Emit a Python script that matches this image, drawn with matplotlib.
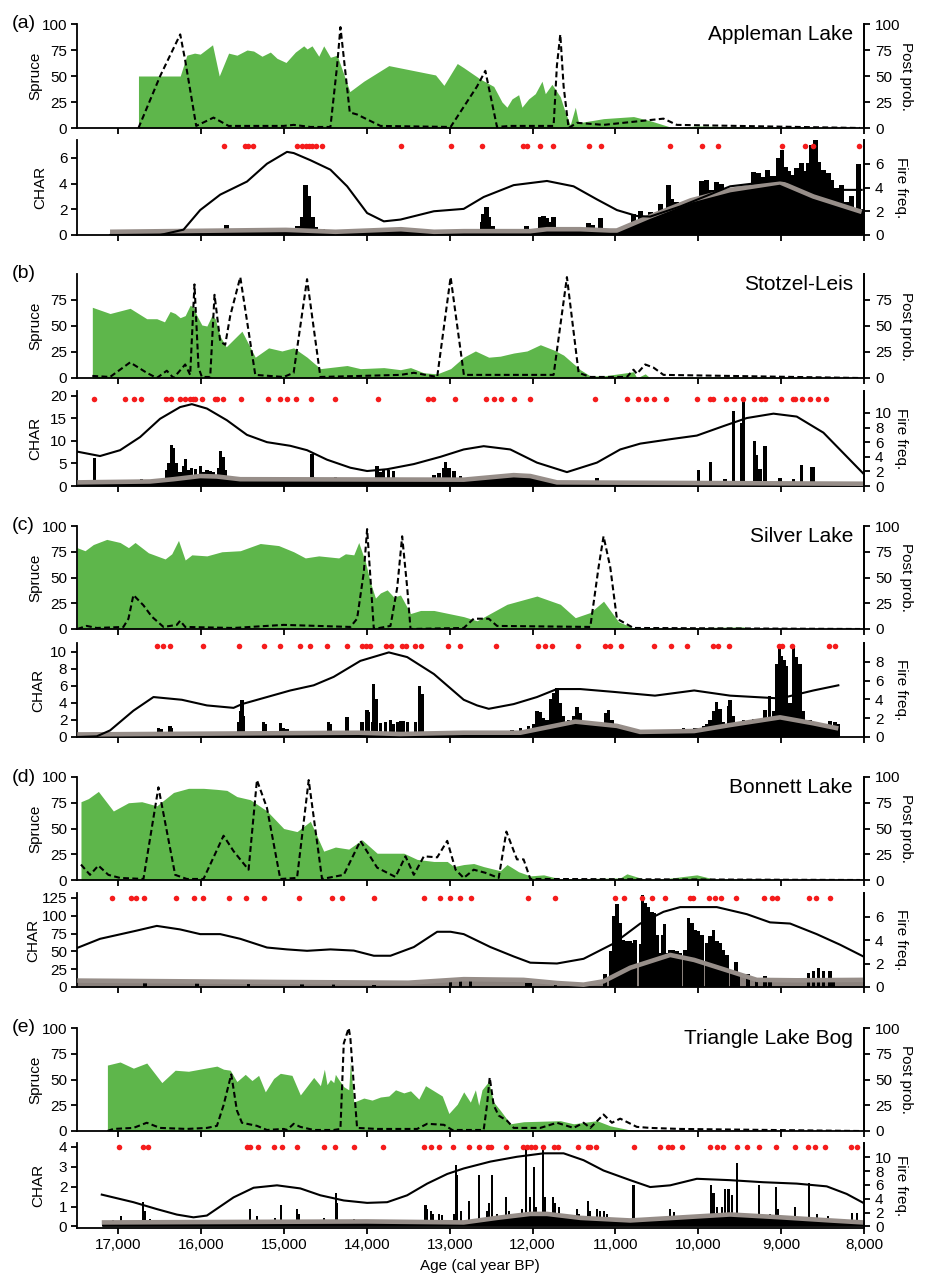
import matplotlib
matplotlib.use("Agg")
import matplotlib.pyplot as plt
from matplotlib.ticker import FuncFormatter

plt.rcParams['font.family'] = ['Liberation Sans', 'DejaVu Sans']
plt.rcParams.update({
    'xtick.labelsize': 11, 'ytick.labelsize': 11,
    'axes.linewidth': 1.3,
    'xtick.major.width': 1.3, 'ytick.major.width': 1.3,
    'xtick.major.size': 4, 'ytick.major.size': 4,
    'xtick.direction': 'out', 'ytick.direction': 'out',
    'xtick.major.pad': 3, 'ytick.major.pad': 3,
})

# ---------------- (a) Appleman Lake ----------------
a_spruce_age = [16758, 16254, 16174, 16081, 16013, 15864, 15783, 15670, 15569, 15448, 15368, 15267, 15166, 15086,
                14977, 14864, 14763, 14723, 14663, 14582, 14522, 14441, 14360, 14207, 14038, 13736, 13172, 13071,
                12910, 12832, 12631, 12470, 12370, 12310, 12249, 12169, 12129, 12048, 11968, 11887, 11847, 11767,
                11666, 11606, 11546, 11485, 11445, 11144, 10782, 10581, 10300, 10018, 9415, 8048]
a_spruce = [50, 50, 70, 72, 71, 80, 50, 72, 70, 75, 74, 69, 73, 67, 63, 73, 79, 76, 79, 69, 79, 68, 70, 35, 45, 60,
            51, 41, 62, 58, 47, 40, 25, 20, 28, 32, 20, 28, 33, 45, 33, 42, 30, 15, 3, 20, 5, 9, 11, 7, 0, 2, 1, 0]
a_pp_age = [16758, 16496, 16254, 16194, 16061, 15852, 15670, 15005, 14884, 14683, 14441, 14360, 14320, 14207, 14119,
            13836, 12990, 12671, 12571, 12430, 12269, 11747, 11707, 11666, 11626, 11566, 11465, 11144, 10420, 10259,
            8048]
a_pp = [0, 50, 90, 65, 2, 10, 2, 2, 3, 1, 1, 60, 97, 15, 13, 2, 1, 40, 55, 1, 2, 2, 60, 90, 40, 0, 5, 3, 9, 3, 0]
a_ff_age = [17101, 16496, 16214, 16013, 15771, 15448, 15207, 14965, 14884, 14683, 14441, 14239, 13998, 13796, 13595,
            13192, 12832, 12591, 12229, 11827, 11506, 11224, 10983, 10742, 10581, 10219, 9616, 9013, 8611, 8330, 8028]
a_ff = [0, 0, 0.45, 2.1, 3.4, 4.5, 6.0, 7.0, 6.9, 6.3, 5.5, 4.1, 1.85, 1.15, 1.3, 2.0, 2.2, 3.2, 4.2, 4.55, 4.1, 3.0,
        2.1, 1.6, 1.55, 2.4, 4.1, 4.6, 4.2, 3.8, 3.8]
a_bg_age = [17101, 14980, 14380, 13590, 13190, 12832, 12028, 11827, 11425, 11065, 10983, 10581, 10091, 9616, 9013,
            8611, 8028]
a_bg = [0.25, 0.4, 0.25, 0.45, 0.25, 0.3, 0.3, 0.45, 0.45, 0.35, 0.35, 1.45, 2.7, 3.5, 4.1, 3.0, 1.8]
a_char_age = [15690, 15470, 15370, 14970, 14840, 14780, 14740, 14700, 14660, 14620, 14540, 12990, 12610, 12590,
              12560, 12530, 12490, 12450, 12110, 12070, 11910, 11870, 11830, 11790, 11750, 11670, 11320, 11280,
              11180, 10780, 10700, 10580, 10460, 10360, 10320, 10260, 10180, 10100, 10020, 9960, 9900, 9840, 9780,
              9720, 9660, 9600, 9540, 9470, 9390, 9330, 9270, 9210, 9170, 9130, 9070, 9030, 8990, 8950, 8910, 8870,
              8810, 8750, 8710, 8670, 8630, 8590, 8550, 8490, 8430, 8390, 8330, 8270, 8210, 8150, 8070, 8030]
a_char = [0.8, 0.2, 0.4, 0.4, 0.7, 1.4, 3.9, 3.0, 1.4, 0.6, 0.5, 0.4, 1.0, 1.6, 2.2, 1.4, 0.7, 0.3, 0.5, 0.7, 1.4,
          1.5, 1.3, 1.0, 1.4, 0.6, 0.9, 0.8, 1.3, 1.6, 1.9, 1.8, 2.4, 3.9, 2.8, 2.6, 2.6, 2.4, 2.5, 4.2, 4.3, 3.5,
          4.1, 4.0, 2.7, 3.3, 2.9, 3.0, 2.6, 4.9, 4.8, 4.5, 5.1, 4.6, 4.6, 6.0, 6.6, 5.3, 5.0, 4.7, 5.2, 5.6, 5.0,
          5.6, 7.0, 7.4, 5.7, 5.1, 4.8, 4.3, 3.7, 3.9, 2.6, 3.0, 5.5, 2.0]
a_peaks = [15720, 15470, 15430, 15370, 14840, 14780, 14740, 14700, 14660, 14620, 14540, 13590, 12990, 12610, 12120,
           12070, 11910, 11750, 11320, 11170, 10340, 9950, 9760, 8990, 8710, 8620, 8060]

# ---------------- (b) Stotzel-Leis ----------------
b_spruce_age = [17315, 17101, 16859, 16658, 16537, 16444, 16376, 16315, 16255, 16194, 16134, 16094, 16053, 15993,
                15932, 15872, 15832, 15771, 15699, 15509, 15348, 15187, 15026, 14885, 14723, 14562, 14240, 14079,
                13797, 13595, 13474, 13313, 13152, 12990, 12832, 12691, 12530, 12390, 12229, 12068, 11907, 11747,
                11626, 11425, 11304, 11144, 10782, 10742, 10641, 10581, 9857, 8048]
b_spruce = [68, 62, 67, 57, 57, 54, 64, 62, 58, 60, 70, 68, 60, 51, 50, 60, 57, 40, 30, 45, 20, 29, 26, 29, 20, 9,
            12, 9, 10, 8, 10, 5, 4, 9, 20, 26, 20, 21, 24, 26, 32, 27, 22, 8, 2, 2, 6, 0, 4, 0, 1, 0]
b_pp_age = [17315, 17101, 16859, 16658, 16537, 16416, 16335, 16194, 16134, 16082, 16033, 15993, 15892, 15840, 15771,
            15711, 15650, 15529, 15348, 15005, 14885, 14723, 14562, 13595, 13434, 13152, 12990, 12830, 12028, 11747,
            11586, 11445, 11304, 10862, 10782, 10742, 10641, 10541, 10420, 8048]
b_pp = [2, 1, 15, 5, 0, 7, 0, 13, 3, 90, 10, 1, 1, 80, 35, 32, 60, 97, 3, 1, 5, 95, 1, 3, 5, 1, 97, 3, 3, 3, 97, 5,
        1, 1, 8, 4, 13, 10, 3, 0]
b_ff_age = [17496, 17222, 16980, 16738, 16497, 16255, 16114, 15932, 15691, 15449, 15207, 14925, 14723, 14482, 14200,
            13998, 13756, 13434, 13111, 12832, 12591, 12269, 11948, 11586, 11224, 10943, 10701, 10340, 10018, 9696,
            9415, 9093, 8812, 8490, 8249, 8008]
b_ff = [4.7, 4.1, 4.9, 6.7, 9.2, 10.8, 11.2, 10.6, 9.0, 7.0, 6.0, 5.5, 4.9, 3.6, 2.5, 2.05, 2.3, 3.0, 4.0, 5.0, 5.45,
        5.0, 3.2, 1.9, 3.2, 5.0, 5.8, 6.4, 6.9, 8.2, 9.3, 9.9, 9.5, 7.3, 4.5, 1.7]
b_bg_age = [17496, 16617, 16336, 16013, 15812, 15529, 12832, 12229, 12028, 11706, 8008]
b_bg = [0.8, 1.0, 1.5, 2.2, 2.1, 1.5, 1.4, 2.4, 2.2, 0.8, 0.5]
b_char_age = [17290, 16900, 16880, 16718, 16416, 16396, 16356, 16335, 16295, 16255, 16215, 16194, 16154, 16114,
              16073, 16013, 15973, 15932, 15892, 15852, 15791, 15771, 15739, 15711, 15671, 15489, 15469, 15207,
              15167, 15106, 14965, 14925, 14885, 14824, 14663, 14643, 14381, 14361, 13877, 13837, 13797, 13736,
              13676, 13253, 13192, 13131, 13071, 13051, 13011, 12950, 12870, 12832, 12711, 12591, 12470, 12390,
              12309, 12229, 12149, 12028, 11988, 11224, 10862, 10701, 9998, 9857, 9676, 9576, 9475, 9455, 9323,
              9294, 9254, 9194, 9013, 8852, 8752, 8631, 8611]
b_char = [6.3, 1.2, 0.8, 1.5, 3.5, 5.0, 9.0, 8.5, 5.0, 3.0, 4.5, 6.0, 3.5, 4.0, 3.8, 4.5, 3.0, 3.5, 3.3, 3.0, 4.0,
          7.8, 6.5, 3.5, 2.0, 1.8, 2.0, 1.0, 0.8, 0.8, 1.5, 1.7, 1.6, 1.4, 7.0, 2.0, 1.9, 1.0, 4.5, 3.0, 3.7, 3.5,
          3.3, 1.8, 2.5, 2.8, 4.0, 5.2, 4.0, 3.3, 2.3, 1.5, 1.7, 1.8, 2.0, 2.0, 2.2, 2.4, 2.0, 2.3, 1.0, 1.8, 0.8,
          1.0, 3.6, 5.2, 1.5, 16.5, 13.9, 19.3, 10.0, 6.9, 3.7, 8.9, 1.7, 1.5, 4.7, 4.1, 4.3]
b_peaks = [17290, 16920, 16807, 16726, 16428, 16364, 16255, 16194, 16134, 16094, 16073, 15993, 15840, 15812, 15739,
           15521, 15199, 15046, 14965, 14856, 14671, 14381, 13869, 13260, 13200, 12942, 12563, 12462, 12382, 12229,
           12028, 11252, 10862, 10729, 10629, 10529, 10388, 10018, 9857, 9825, 9668, 9568, 9463, 9323, 9242, 9194,
           9005, 8852, 8832, 8744, 8651, 8551, 8458]

# ---------------- (c) Silver Lake ----------------
c_spruce_age = [17500, 17403, 17303, 17141, 16980, 16879, 16799, 16638, 16436, 16356, 16275, 16194, 16114, 15932,
                15751, 15529, 15288, 15066, 14885, 14744, 14582, 14341, 14260, 14159, 14099, 14018, 13958, 13897,
                13837, 13756, 13676, 13595, 13474, 13353, 13192, 12832, 12671, 12309, 11948, 11666, 11485, 11304,
                11144, 10963, 10782, 10380, 9459, 9335, 8048]
c_spruce = [79, 76, 82, 87, 84, 79, 84, 74, 68, 73, 86, 67, 72, 71, 75, 76, 83, 81, 75, 69, 71, 69, 73, 72, 84, 65,
            45, 30, 35, 38, 31, 33, 15, 18, 18, 12, 8, 24, 32, 24, 11, 16, 27, 7, 1, 1, 2, 0, 0]
c_pp_age = [17496, 17384, 17262, 16940, 16879, 16819, 16698, 16597, 16456, 16295, 16255, 16194, 15610, 15005, 14200,
            14119, 14038, 13998, 13950, 13917, 13716, 13635, 13575, 13514, 13474, 12832, 12711, 12530, 12430, 11304,
            11204, 11144, 11063, 10983, 10782, 8048]
c_pp = [0, 3, 1, 2, 10, 33, 23, 12, 2, 4, 8, 2, 1, 4, 2, 10, 55, 97, 40, 0, 3, 40, 90, 40, 0, 1, 10, 10, 3, 2, 60,
        90, 60, 10, 1, 0]
c_ff_age = [17496, 17262, 17101, 16819, 16577, 16234, 15932, 15610, 15509, 15207, 14925, 14643, 14401, 14079, 13736,
            13514, 13192, 12832, 12671, 12530, 12229, 11948, 11707, 11425, 11023, 10523, 10050, 9616, 9210, 9013,
            8611, 8310]
c_ff = [0, 0.07, 0.7, 2.8, 4.25, 3.96, 3.36, 3.1, 3.5, 4.25, 4.95, 5.5, 6.4, 8.1, 9.0, 8.5, 6.7, 3.96, 3.36, 3.0,
        3.5, 4.25, 5.1, 5.1, 4.8, 4.4, 4.95, 4.4, 4.2, 4.1, 4.95, 5.5]
c_bg_age = [17496, 14100, 13600, 12832, 12149, 11485, 10983, 10702, 10050, 9616, 9013, 8611, 8310]
c_bg = [0.3, 0.5, 0.35, 0.5, 0.5, 1.8, 1.3, 0.6, 0.7, 1.4, 2.3, 1.6, 1.0]
c_char_age = [16819, 16517, 16476, 16376, 16356, 15973, 15912, 15550, 15529, 15509, 15489, 15368, 15247, 15227,
              15046, 15005, 14965, 14683, 14462, 14441, 14240, 14059, 13998, 13978, 13937, 13917, 13885, 13837,
              13776, 13716, 13676, 13635, 13595, 13555, 13514, 13414, 13362, 13333, 13232, 13031, 12870,
              12430, 12350, 12250, 12150, 12050, 11990, 11948, 11907, 11867, 11827, 11787, 11747, 11706, 11666,
              11626, 11565, 11505, 11465, 11425, 11385, 11345, 11300, 11230, 11184, 11124, 11083, 11043, 10983,
              10943, 10902, 10850, 10800, 10750, 10700, 10620, 10541, 10460, 10380, 10299, 10240, 10179, 10100,
              10040, 10000, 9940, 9900, 9860, 9817, 9777, 9737, 9696, 9636, 9616, 9576, 9520, 9455, 9400, 9335,
              9300, 9254, 9194, 9142, 9093, 9053, 9021, 8993, 8965, 8933, 8892, 8852, 8812, 8772, 8732, 8700, 8651,
              8610, 8571, 8530, 8490, 8450, 8410, 8350, 8310]
c_char = [0.2, 1.1, 0.9, 1.3, 1.1, 0.5, 0.6, 1.8, 3.0, 4.3, 2.5, 0.3, 1.8, 1.5, 1.6, 1.0, 0.9, 0.4, 1.8, 1.5, 2.3,
          1.7, 3.2, 2.9, 1.7, 6.2, 4.5, 1.6, 1.8, 2.0, 1.5, 1.7, 1.9, 1.9, 1.8, 1.8, 6.0, 5.0, 0.3, 0.3, 0.3,
          0.5, 0.6, 0.8, 1.0, 1.3, 1.5, 3.0, 2.9, 2.2, 2.0, 4.5, 5.2, 5.7, 4.0, 2.5, 2.0, 2.5, 3.5, 2.8, 1.8, 1.5,
          1.6, 1.5, 1.8, 2.8, 3.2, 2.0, 1.5, 1.3, 1.0, 0.9, 0.9, 0.7, 0.7, 0.6, 0.5, 0.5, 0.7, 0.8, 0.8, 1.0,
          0.9, 1.0, 1.0, 1.3, 1.5, 2.0, 3.0, 4.1, 3.3, 1.8, 3.6, 4.3, 2.5, 1.8, 2.0, 1.8, 2.1, 2.0, 2.0, 3.2,
          4.8, 3.0, 8.5, 10.4, 9.5, 9.0, 8.3, 4.0, 10.5, 9.4, 8.6, 3.0, 2.0, 2.0, 1.8, 1.5, 1.5, 1.3, 1.5, 1.9,
          1.8, 1.5]
c_peaks = [16537, 16456, 16376, 15985, 15550, 15247, 15046, 14804, 14683, 14482, 14240, 14059, 14010, 13958, 13776,
           13708, 13575, 13527, 13414, 13353, 13019, 12878, 12442, 11936, 11847, 11767, 11453, 11132, 11063, 10931,
           10529, 10328, 10139, 9817, 9757, 9628, 9025, 8993, 8864, 8418, 8350]

# ---------------- (d) Bonnett Lake ----------------
d_spruce_age = [17452, 17363, 17242, 17061, 16879, 16718, 16537, 16335, 16154, 15973, 15812, 15691, 15570, 15409,
                15207, 15005, 14844, 14683, 14522, 14381, 14220, 14059, 13877, 13555, 13394, 13192, 13031, 12950,
                12832, 12711, 12591, 12390, 12309, 12169, 12028, 11867, 11666, 10943, 10862, 10661, 10420, 10018,
                9817, 9210, 9013, 8048]
d_spruce = [76, 79, 86, 67, 75, 76, 72, 85, 89, 89, 88, 87, 81, 78, 67, 50, 47, 57, 28, 32, 30, 39, 26, 26, 20, 18,
            18, 13, 15, 16, 13, 9, 15, 8, 4, 5, 1, 2, 6, 1, 1, 5, 1, 1, 0, 0]
d_pp_age = [17452, 17343, 17242, 17121, 16980, 16698, 16517, 16315, 16174, 15973, 15731, 15610, 15429, 15328, 15207,
            15046, 14844, 14703, 14542, 14280, 14079, 13877, 13656, 13535, 13434, 13313, 13152, 13031, 12930, 12832,
            12711, 12571, 12410, 12317, 12189, 12109, 12028, 11907, 8048]
d_pp = [15, 5, 14, 5, 2, 1, 90, 5, 1, 1, 43, 28, 10, 97, 70, 1, 2, 97, 1, 5, 38, 12, 3, 23, 5, 23, 22, 38, 10, 2,
        10, 7, 2, 47, 20, 20, 1, 1, 0]
d_ff_age = [17496, 17222, 16779, 16537, 16255, 16013, 15771, 15529, 15207, 14965, 14723, 14441, 14159, 13917, 13716,
            13434, 13152, 12990, 12832, 12510, 12229, 12028, 11706, 11385, 11023, 10701, 10420, 10219, 9777, 9415,
            9134, 8892, 8571, 8289, 8008]
d_ff = [3.33, 4.1, 4.8, 5.2, 4.9, 4.5, 4.5, 4.1, 3.36, 3.2, 3.08, 3.2, 3.1, 2.66, 2.66, 3.4, 4.7, 4.7, 4.5, 3.4, 2.6,
        2.07, 2.0, 2.4, 3.7, 5.4, 6.4, 6.8, 6.8, 6.2, 5.5, 5.4, 4.5, 3.6, 2.6]
d_bg_age = [17496, 15000, 13500, 12832, 12109, 11706, 11385, 11144, 10822, 10340, 10050, 9616, 9294, 8812, 8008]
d_bg = [9, 7, 6, 11, 10, 5.6, 3.3, 8, 27, 45, 38, 22, 10, 9.4, 10]
d_char_age = [16678, 16053, 15429, 14784, 14401, 13917, 12990, 12870, 12752, 12068, 12028, 11727, 11124, 11063,
              11023, 10983, 10943, 10902, 10862, 10822, 10802, 10762, 10701, 10673, 10641, 10601, 10561, 10528,
              10500, 10460, 10432, 10408, 10380, 10340, 10299, 10259, 10219, 10159, 10119, 10078, 10038, 9998, 9958,
              9897, 9857, 9817, 9777, 9737, 9696, 9656, 9596, 9544, 9515, 9400, 9300, 9194, 9134, 8671, 8611, 8551,
              8490, 8410, 8370]
d_char = [5, 5, 8, 10, 4, 3, 12, 10, 8, 5, 5, 5, 18, 50, 100, 116, 90, 66, 65, 64, 62, 66, 60, 129, 118, 113, 106,
          104, 73, 48, 73, 89, 48, 52, 52, 50, 48, 52, 97, 90, 80, 78, 73, 62, 71, 80, 64, 62, 52, 45, 20, 35, 20,
          18, 12, 15, 8, 20, 23, 27, 22, 22, 10]
d_peaks = [17081, 16847, 16787, 16686, 16303, 16082, 15985, 15662, 15461, 15239, 14816, 14421, 14300, 13917, 13313,
           13119, 12998, 12878, 12744, 12060, 11727, 11003, 10902, 10681, 10561, 10408, 10106, 10066, 9865, 9797,
           9729, 9544, 9206, 9105, 9045, 8663, 8583, 8410]

# ---------------- (e) Triangle Lake Bog ----------------
e_spruce_age = [17133, 16980, 16819, 16658, 16476, 16315, 16154, 15811, 15731, 15650, 15570, 15469, 15388, 15308,
                15227, 15126, 15046, 14905, 14804, 14643, 14562, 14514, 14482, 14441, 14401, 14381, 14341, 14280,
                14220, 14200, 14159, 14038, 13938, 13837, 13736, 13655, 13555, 13474, 13374, 13293, 13091, 13011,
                12910, 12832, 12752, 12691, 12651, 12611, 12531, 12470, 12390, 12269, 12108, 11666, 11506, 11224,
                11063, 10822, 10581, 8048]
e_spruce = [64, 67, 61, 66, 47, 59, 58, 63, 60, 59, 48, 55, 49, 54, 38, 51, 56, 54, 35, 52, 44, 60, 45, 50, 47, 55,
            50, 43, 40, 67, 28, 32, 30, 33, 34, 40, 37, 39, 31, 44, 34, 17, 26, 38, 28, 40, 25, 40, 48, 28, 20, 7, 9,
            10, 7, 10, 5, 1, 0, 0]
e_pp_age = [17133, 17061, 16819, 16658, 16497, 16174, 15932, 15811, 15731, 15638, 15570, 15509, 15328, 15207, 15005,
            14965, 14884, 14804, 14643, 14401, 14320, 14280, 14220, 14200, 14159, 14119, 13877, 13394, 13273, 13071,
            12970, 12832, 12591, 12551, 12518, 12470, 12410, 12309, 12229, 11907, 11706, 11506, 11385, 11304, 11144,
            11043, 10943, 10742, 10581, 10219, 8048]
e_pp = [0, 2, 3, 8, 3, 2, 3, 5, 25, 55, 20, 8, 5, 1, 2, 1, 7, 4, 1, 1, 2, 85, 100, 90, 45, 3, 2, 2, 7, 6, 1, 1, 1,
        25, 52, 25, 15, 10, 3, 3, 8, 3, 8, 3, 16, 8, 12, 4, 3, 2, 0]
e_ff_age = [17201, 16819, 16537, 16295, 16094, 15932, 15610, 15368, 15086, 14804, 14562, 14280, 13998, 13756, 13515,
            13273, 13031, 12832, 12510, 12189, 11867, 11626, 11385, 11144, 10822, 10581, 10340, 10018, 9616, 9214,
            8812, 8450, 8209, 8008]
e_ff = [4.6, 3.5, 2.5, 1.7, 1.3, 1.56, 4.2, 5.6, 5.95, 5.5, 4.5, 3.75, 3.4, 3.5, 4.5, 6.2, 7.6, 8.4, 9.4, 10.1, 10.6,
        10.6, 9.6, 8.1, 6.7, 5.7, 5.95, 6.9, 6.7, 6.4, 6.2, 5.8, 4.7, 3.4]
e_bg_age = [17201, 14000, 12832, 12430, 12028, 11827, 11425, 10822, 10018, 9616, 9013, 8410, 8008]
e_bg = [0.2, 0.25, 0.2, 0.43, 0.63, 0.63, 0.43, 0.3, 0.5, 0.6, 0.46, 0.3, 0.2]
e_char_age = [17182, 17061, 16972, 16698, 16678, 16617, 16577, 15771, 15449, 15417, 15328, 15126, 15106, 15034,
              14844, 14824, 14522, 14373, 14361, 14159, 13797, 13756, 13293, 13273, 13224, 13200, 13132, 13091,
              12950, 12930, 12910, 12870, 12772, 12651, 12551, 12531, 12490, 12430, 12317, 12289, 12129, 12076,
              12028, 11988, 11956, 11875, 11847, 11755, 11727, 11686, 11646, 11465, 11445, 11337, 11312, 11224,
              11184, 11144, 11103, 10923, 10782, 10601, 10460, 10340, 10299, 10259, 10179, 9938, 9845, 9817, 9777,
              9717, 9676, 9636, 9596, 9536, 9415, 9355, 9266, 9134, 9065, 9033, 8953, 8832, 8663, 8571, 8430, 8149,
              8088]
e_char = [0.25, 0.3, 0.5, 1.25, 0.8, 0.35, 0.2, 0.1, 0.2, 0.9, 0.5, 0.3, 0.4, 1.1, 0.9, 0.6, 0.4, 1.7, 1.2, 0.35,
          0.3, 0.2, 1.1, 0.9, 0.8, 0.6, 0.6, 0.55, 0.6, 3.1, 2.6, 0.8, 1.3, 2.6, 0.8, 1.2, 2.6, 0.6, 1.5, 0.8, 0.9,
          4.0, 1.5, 3.0, 1.0, 3.9, 1.5, 1.5, 1.2, 1.0, 0.6, 0.9, 0.6, 1.3, 0.8, 0.9, 0.8, 0.8, 0.6, 0.25, 2.1, 0.2,
          0.4, 0.9, 0.75, 0.5, 0.4, 0.2, 2.1, 1.7, 1.0, 1.0, 1.9, 1.9, 1.6, 3.2, 0.6, 0.6, 2.1, 0.6, 2.0, 0.9, 0.5,
          1.0, 2.2, 0.6, 0.5, 0.7, 0.7]
e_peaks = [16992, 16698, 16638, 15449, 15417, 15316, 15118, 15026, 14844, 14522, 14381, 14159, 13805, 13313, 13232,
           13132, 12962, 12772, 12651, 12539, 12498, 12321, 12120, 12068, 12016, 11976, 11879, 11747, 11694, 11453,
           11333, 11304, 11232, 10774, 10460, 10360, 10320, 10199, 9857, 9777, 9704, 9536, 9415, 9266, 9065, 8832,
           8671, 8591, 8470, 8157, 8088]

site_names = ['Appleman Lake', 'Stotzel-Leis', 'Silver Lake', 'Bonnett Lake', 'Triangle Lake Bog']
site_tags = ['(a)', '(b)', '(c)', '(d)', '(e)']
age_ticks = [17000, 16000, 15000, 14000, 13000, 12000, 11000, 10000, 9000, 8000]

sites = [
    dict(sp_age=a_spruce_age, sp=a_spruce, pp_age=a_pp_age, pp=a_pp, ff_age=a_ff_age, ff=a_ff,
         bg_age=a_bg_age, bg=a_bg, ch_age=a_char_age, ch=a_char, peaks=a_peaks, peak_y=6.93),
    dict(sp_age=b_spruce_age, sp=b_spruce, pp_age=b_pp_age, pp=b_pp, ff_age=b_ff_age, ff=b_ff,
         bg_age=b_bg_age, bg=b_bg, ch_age=b_char_age, ch=b_char, peaks=b_peaks, peak_y=19.3),
    dict(sp_age=c_spruce_age, sp=c_spruce, pp_age=c_pp_age, pp=c_pp, ff_age=c_ff_age, ff=c_ff,
         bg_age=c_bg_age, bg=c_bg, ch_age=c_char_age, ch=c_char, peaks=c_peaks, peak_y=10.67),
    dict(sp_age=d_spruce_age, sp=d_spruce, pp_age=d_pp_age, pp=d_pp, ff_age=d_ff_age, ff=d_ff,
         bg_age=d_bg_age, bg=d_bg, ch_age=d_char_age, ch=d_char, peaks=d_peaks, peak_y=125),
    dict(sp_age=e_spruce_age, sp=e_spruce, pp_age=e_pp_age, pp=e_pp, ff_age=e_ff_age, ff=e_ff,
         bg_age=e_bg_age, bg=e_bg, ch_age=e_char_age, ch=e_char, peaks=e_peaks, peak_y=4.0),
]

GREEN = '#5eb64b'
GREY = '#978e89'
RED = '#f51c1c'

# layout / axis styling per panel (pixel rows: spruce top/bottom, char top/bottom)
rows = [(24, 128, 140, 235), (274, 378, 391, 486), (526, 629, 643, 737), (777, 880, 893, 987),
        (1028, 1131, 1143, 1228)]
spruce_ticks = [[0, 25, 50, 75, 100], [0, 25, 50, 75], [0, 25, 50, 75, 100], [0, 25, 50, 75, 100],
                [0, 25, 50, 75, 100]]
char_lim = [(0, 7.4), (0, 21), (0, 11), (0, 132), (-0.08, 4.2)]
char_ticks = [[0, 2, 4, 6], [0, 5, 10, 15, 20], [0, 2, 4, 6, 8, 10], [0, 25, 50, 75, 100, 125], [0, 1, 2, 3, 4]]
fire_lim = [(0, 8), (0, 13), (0, 10), (0, 8), (-0.25, 12.1)]
fire_ticks = [[0, 2, 4, 6], [0, 2, 4, 6, 8, 10], [0, 2, 4, 6, 8], [0, 2, 4, 6], [0, 2, 4, 6, 8, 10]]
bar_width = [60, 40, 40, 42, 25]
under_bg = ['black', 'black', 'black', '#8a817c', 'black']
char_label_x = [-0.038, -0.0445, -0.0407, -0.047, -0.0407]

W, H = 928, 1276
L, R = 77, 864

fig = plt.figure(figsize=(W / 100, H / 100), dpi=100)


def make_axes(top, bottom):
    return fig.add_axes([L / W, 1 - bottom / H, (R - L) / W, (bottom - top) / H])


def style_left(ax):
    ax.spines['top'].set_visible(False)
    ax.set_xlim(17500, 8000)
    ax.set_xticks(age_ticks)
    ax.patch.set_visible(False)


def style_right(ax):
    for s in ['top', 'left', 'bottom']:
        ax.spines[s].set_visible(False)
    ax.tick_params(axis='y', pad=4)


for i, s in enumerate(sites):
    t1, b1, t2, b2 = rows[i]

    # spruce pollen + posterior probability
    ax1 = make_axes(t1, b1)
    style_left(ax1)
    ax1.fill_between(s['sp_age'], 0, s['sp'], color=GREEN, lw=0)
    ax1.set_ylim(0, 100)
    ax1.set_yticks(spruce_ticks[i])
    ax1.tick_params(labelbottom=False)
    ax1.set_ylabel('Spruce', fontsize=11)
    ax1.yaxis.set_label_coords(-0.0445, 0.5)
    ax1r = ax1.twinx()
    style_right(ax1r)
    ax1r.plot(s['pp_age'], s['pp'], color='black', lw=1.5, dashes=(2.8, 1.6))
    ax1r.set_ylim(0, 100)
    ax1r.set_yticks(spruce_ticks[i])
    ax1r.set_ylabel('Post prob.', fontsize=11, rotation=270, va='bottom')
    ax1r.yaxis.set_label_coords(1.045, 0.5)
    ax1.text(0.986, 0.995, site_names[i], transform=ax1.transAxes, ha='right', va='top', fontsize=15)
    fig.text(12 / W, 1 - t1 / H, site_tags[i], ha='left', va='center', fontsize=14)

    # charcoal + fire frequency
    ax2 = make_axes(t2, b2)
    style_left(ax2)
    ax2.fill_between(s['bg_age'], 0, s['bg'], color=under_bg[i], lw=0, zorder=2)
    ax2.bar(s['ch_age'], s['ch'], width=bar_width[i], color='black', lw=0, zorder=2.5)
    ax2.plot(s['bg_age'], s['bg'], color=GREY, lw=3.3, solid_capstyle='butt', zorder=3)
    ax2.plot(s['peaks'], [s['peak_y']] * len(s['peaks']), 'o', color=RED, ms=4, mec='none', zorder=4,
             clip_on=False)
    ax2.set_ylim(*char_lim[i])
    ax2.set_yticks(char_ticks[i])
    ax2.set_ylabel('CHAR', fontsize=11)
    ax2.yaxis.set_label_coords(char_label_x[i], 0.5)
    ax2r = ax2.twinx()
    style_right(ax2r)
    ax2r.plot(s['ff_age'], s['ff'], color='black', lw=1.5)
    ax2r.set_ylim(*fire_lim[i])
    ax2r.set_yticks(fire_ticks[i])
    ax2r.set_ylabel('Fire freq.', fontsize=11, rotation=270, va='bottom')
    ax2r.yaxis.set_label_coords(1.038, 0.5)
    if i < len(sites) - 1:
        ax2.tick_params(labelbottom=False)
    else:
        ax2.xaxis.set_major_formatter(FuncFormatter(lambda v, p: f'{int(v):,}'))

fig.text(480 / W, 1 - 1266 / H, 'Age (cal year BP)', ha='center', va='center', fontsize=11)

fig.savefig('out.png', dpi=100)
